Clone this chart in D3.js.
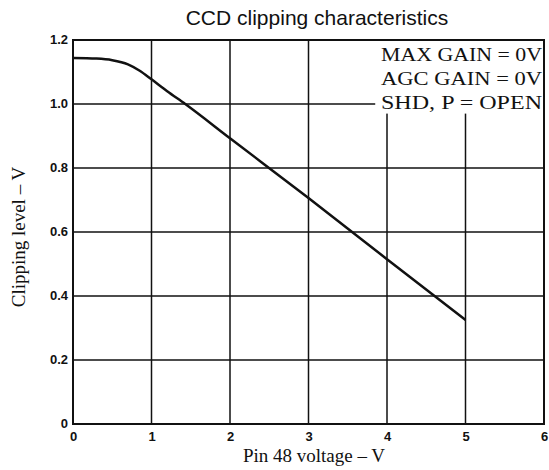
<!DOCTYPE html>
<html>
<head>
<meta charset="utf-8">
<script src="https://cdn.jsdelivr.net/npm/d3@7"></script>
<style>
  body { margin: 0; background: #fff; }
  .tick text { font-family: "Liberation Sans", Arial, sans-serif; font-size: 13px; font-weight: bold; fill: #111; }
</style>
</head>
<body>
<script>
// Curve
const pinVoltage = [0, 0.3, 0.5, 0.7, 0.85, 1.0, 1.2, 1.43, 2, 3, 4, 5];
const clipLevel  = [1.144, 1.142, 1.137, 1.124, 1.104, 1.077, 1.04, 1.0, 0.893, 0.706, 0.515, 0.325];

const xTicks = [0, 1, 2, 3, 4, 5, 6];
const yTicks = [0, 0.2, 0.4, 0.6, 0.8, 1.0, 1.2];
const yTickLabels = ["0", "0.2", "0.4", "0.6", "0.8", "1.0", "1.2"];
const notes = ["MAX GAIN = 0V", "AGC GAIN = 0V", "SHD, P = OPEN"];

const width = 549, height = 470;
const margin = { left: 73, right: 5, top: 40, bottom: 46 };
const xMax = width - margin.left - margin.right;
const yMax = height - margin.top - margin.bottom;

const svg = d3.select("body").append("svg")
    .attr("width", width)
    .attr("height", height);

const g = svg.append("g")
    .attr("transform", "translate(" + margin.left + "," + margin.top + ")");

const x = d3.scaleLinear().domain([0, 6]).range([0, xMax]);
const y = d3.scaleLinear().domain([0, 1.2]).range([yMax, 0]);

// grid
g.selectAll(".vgrid")
    .data(xTicks.slice(1, -1))
    .enter().append("line")
    .attr("x1", d => x(d)).attr("x2", d => x(d))
    .attr("y1", 0).attr("y2", yMax)
    .attr("stroke", "#111").attr("stroke-width", 1.5);

g.selectAll(".hgrid")
    .data(yTicks.slice(1, -1))
    .enter().append("line")
    .attr("x1", 0).attr("x2", xMax)
    .attr("y1", d => y(d)).attr("y2", d => y(d))
    .attr("stroke", "#111").attr("stroke-width", 1.5);

// white box behind the notes
g.append("rect")
    .attr("x", x(3.85)).attr("y", 0)
    .attr("width", xMax - x(3.85)).attr("height", y(0.97))
    .attr("fill", "#fff");

// axes
g.append("g")
    .attr("class", "xaxis")
    .attr("transform", "translate(0," + yMax + ")")
    .call(d3.axisBottom(x).tickValues(xTicks).tickSize(0).tickPadding(8).tickFormat(d3.format("d")))
    .call(a => a.select(".domain").remove());

g.append("g")
    .attr("class", "yaxis")
    .call(d3.axisLeft(y).tickValues(yTicks).tickSize(0).tickPadding(5).tickFormat((d, i) => yTickLabels[i]))
    .call(a => a.select(".domain").remove());

g.selectAll(".xaxis .tick text").attr("dy", "0.72em");
g.selectAll(".yaxis .tick text").attr("dy", "0.3em");

// frame
g.append("rect")
    .attr("width", xMax).attr("height", yMax)
    .attr("fill", "none").attr("stroke", "#111").attr("stroke-width", 2);

// curve
const line = d3.line()
    .x((d, i) => x(pinVoltage[i]))
    .y(d => y(d))
    .curve(d3.curveMonotoneX);

g.append("path")
    .datum(clipLevel)
    .attr("d", line)
    .attr("fill", "none")
    .attr("stroke", "#111")
    .attr("stroke-width", 2.5);

// notes
g.selectAll(".note")
    .data(notes)
    .enter().append("text")
    .attr("x", xMax - 2)
    .attr("y", (d, i) => 21 + i * 24)
    .attr("text-anchor", "end")
    .attr("textLength", 161)
    .attr("lengthAdjust", "spacingAndGlyphs")
    .style("font-family", "'Liberation Serif', 'Times New Roman', serif")
    .style("font-size", "19px")
    .attr("fill", "#111")
    .text(d => d);

// title and labels
svg.append("text")
    .attr("x", 317).attr("y", 25)
    .attr("text-anchor", "middle")
    .style("font-family", "'Liberation Sans', Arial, sans-serif")
    .style("font-size", "21px")
    .attr("fill", "#111")
    .text("CCD clipping characteristics");

svg.append("text")
    .attr("x", 314).attr("y", 462)
    .attr("text-anchor", "middle")
    .style("font-family", "'Liberation Serif', 'Times New Roman', serif")
    .style("font-size", "19px")
    .attr("fill", "#111")
    .text("Pin 48 voltage – V");

svg.append("text")
    .attr("transform", "translate(25,237) rotate(-90)")
    .attr("text-anchor", "middle")
    .style("font-family", "'Liberation Serif', 'Times New Roman', serif")
    .style("font-size", "19px")
    .attr("fill", "#111")
    .text("Clipping level – V");
</script>
</body>
</html>
